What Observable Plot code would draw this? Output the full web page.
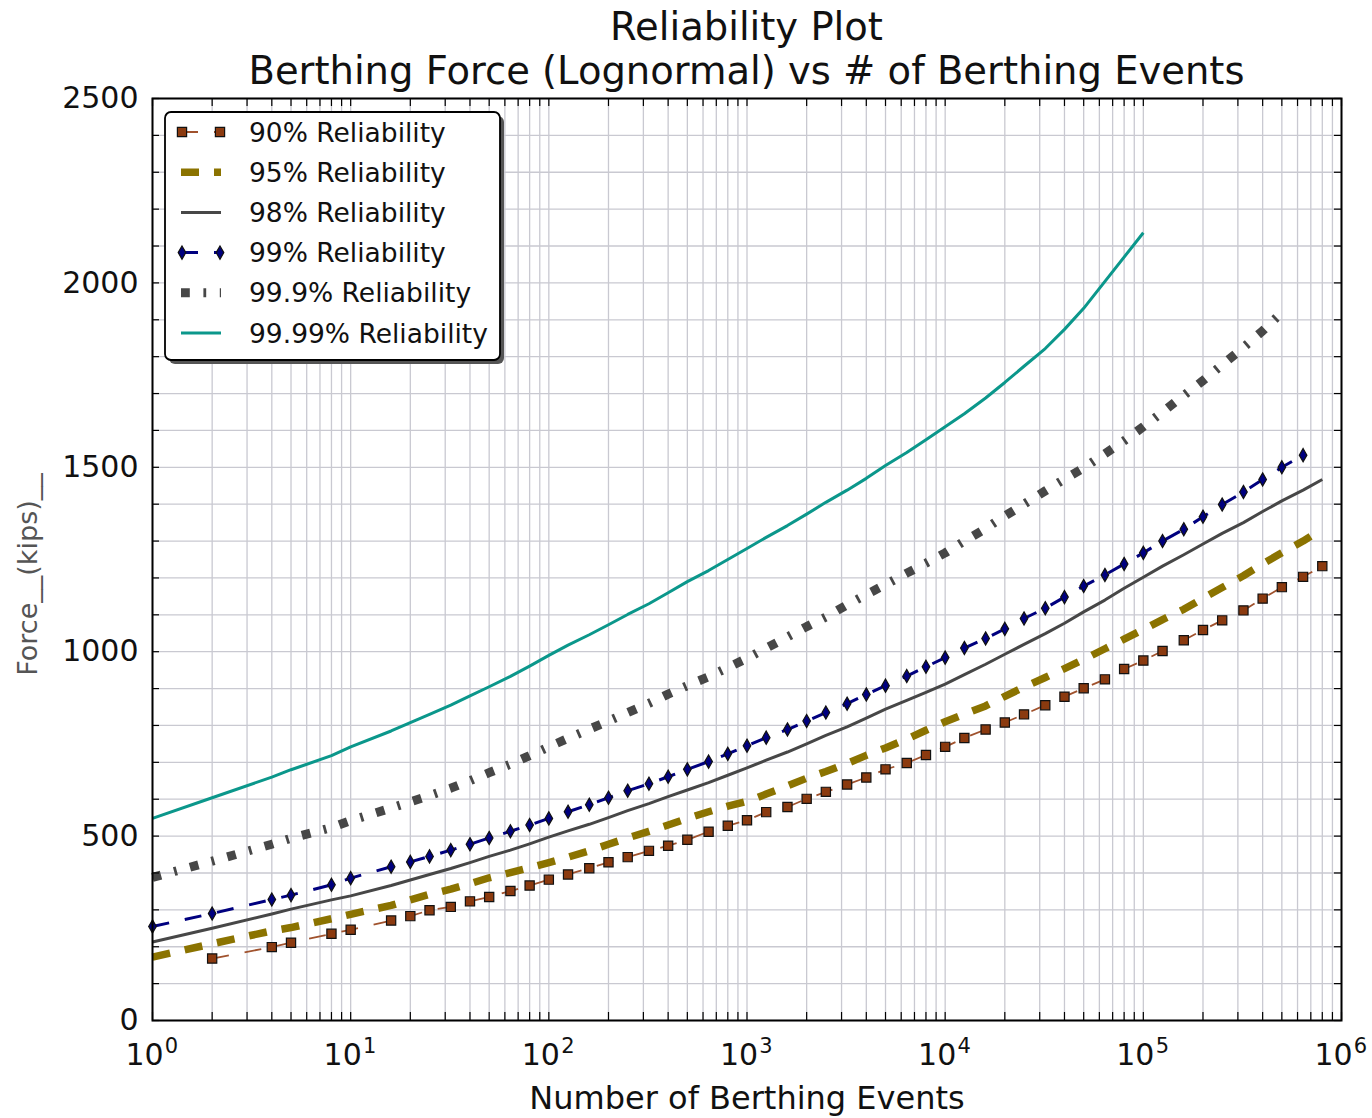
<!DOCTYPE html>
<html>
<head>
<meta charset="utf-8">
<script src="https://cdn.jsdelivr.net/npm/d3@7"></script>
<script src="https://cdn.jsdelivr.net/npm/@observablehq/plot@0.6"></script>
<style>
  body { margin: 0; background: #fff; font-family: "DejaVu Sans", sans-serif; }
  #wrap { position: relative; width: 1372px; height: 1118px; overflow: hidden; }
  #title { position: absolute; left: 152px; width: 1189px; top: 5px; text-align: center;
           font-size: 38.5px; line-height: 44px; color: #111; }
  #chart { position: absolute; left: 0; top: 0; }
  #legend { position: absolute; left: 0; top: 0; pointer-events: none; }
</style>
</head>
<body>
<div id="wrap">
  <div id="chart"></div>
  <div id="title">Reliability Plot<br>Berthing Force (Lognormal) vs # of Berthing Events</div>
  <svg id="legend" width="1372" height="1118"></svg>
</div>
<script>
// ---------------- data ----------------
const events = [1,2,4,5,8,10,16,20,25,32,40,50,64,80,100,125,160,200,250,320,400,500,640,800,
  1000,1250,1600,2000,2500,3200,4000,5000,6400,8000,10000,12500,16000,20000,25000,32000,40000,
  50000,64000,80000,100000,125000,160000,200000,250000,320000,400000,500000,640000,800000];

const rel90 = [null,168,199,211,235,246,271,283,299,308,323,335,351,366,382,396,413,429,443,460,474,490,512,528,
  543,565,579,601,620,640,659,681,698,720,742,766,789,808,830,855,878,
  901,925,953,976,1002,1031,1059,1085,1112,1144,1175,1203,1232];

const rel95 = [172,208,243,252,276,288,312,327,342,356,371,387,401,414,428,443,460,478,495,513,530,548,566,581,
  594,614,636,657,675,697,719,739,763,787,810,831,853,879,904,930,954,
  979,1008,1034,1060,1087,1115,1145,1174,1206,1238,1268,1300,1333];

const rel98 = [213,250,289,302,327,338,366,381,396,412,428,445,462,479,497,514,532,550,569,588,607,625,645,665,
  685,706,728,750,773,796,820,844,868,890,912,938,966,993,1020,1049,1077,
  1108,1140,1172,1202,1232,1263,1292,1321,1350,1380,1409,1438,1467];

const rel99 = [255,290,328,340,368,386,417,430,445,462,478,495,513,530,548,566,585,604,623,642,661,681,702,723,
  745,767,789,812,835,859,884,908,934,959,984,1010,1036,1062,1090,1118,1148,
  1178,1208,1238,1268,1300,1332,1366,1399,1433,1467,1500,1533,null];

const rel999 = [388,432,478,494,523,542,576,593,610,630,650,672,695,718,742,765,790,812,835,860,885,908,932,957,
  982,1010,1040,1068,1094,1127,1155,1182,1213,1240,1268,1300,1334,1368,1400,1436,1468,
  1498,1537,1572,1610,1650,1695,1735,1778,1825,1870,1920,null,null];

const rel9999 = [548,604,660,680,718,742,785,808,830,855,880,905,933,961,990,1018,1046,1073,1101,1130,1160,1190,1220,1250,
  1280,1310,1342,1373,1405,1438,1470,1505,1540,1575,1610,1645,1688,1730,1774,1822,1874,
  1931,null,null,2136,null,null,null,null,null,null,null,null,null];

const seriesNames = ["90% Reliability","95% Reliability","98% Reliability","99% Reliability","99.9% Reliability","99.99% Reliability"];
const seriesValues = [rel90, rel95, rel98, rel99, rel999, rel9999];

const xLabelTicks = [1,10,100,1000,10000,100000,1000000];
const xLabelExp = ["0","1","2","3","4","5","6"];
const yLabelTicks = [0,500,1000,1500,2000,2500];
const yGridTicks = d3.range(0, 2501, 100);
const mantissas = [1,2,3,4,5,6,7,8,9];
const xGridTicks = xLabelTicks.slice(0, -1).flatMap(d => mantissas.map(m => m * d)).concat([1000000]);

// ---------------- styles ----------------
const styles = [
  {stroke: "#a0522d", width: 1.8, dash: "17,16", marker: "square", mfill: "#8b3a0f", r: 5.2},
  {stroke: "#8b7300", width: 7.5, dash: "18,15"},
  {stroke: "#474747", width: 3, dash: null},
  {stroke: "#00007f", width: 3, dash: "17,16", marker: "diamond", mfill: "#00007f", r: 4},
  {stroke: "#474747", width: 9, dash: "8.8,13.6,2.8,13.6"},
  {stroke: "#0b978b", width: 3, dash: null}
];

const rows = [];
seriesNames.forEach((name, si) => {
  seriesValues[si].forEach((v, i) => {
    if (v != null) rows.push({series: name, idx: si, events: events[i], force: v});
  });
});

// ---------------- chart ----------------
const W = 1372, H = 1118, ML = 152, MR = 31, MT = 98, MB = 98;
const IW = W - ML - MR, IH = H - MT - MB;
const gridColor = "#c9c9d1";

const marks = [
  Plot.gridX(xGridTicks, {stroke: gridColor, strokeOpacity: 1, strokeWidth: 1.3}),
  Plot.gridY(yGridTicks, {stroke: gridColor, strokeOpacity: 1, strokeWidth: 1.3})
];

styles.forEach((s, si) => {
  const data = rows.filter(d => d.idx === si);
  marks.push(Plot.line(data, {
    x: "events", y: "force", stroke: s.stroke, strokeWidth: s.width,
    strokeDasharray: s.dash || undefined, strokeLinecap: "butt", strokeLinejoin: "round"
  }));
  if (s.marker) {
    marks.push(Plot.dot(data, {
      x: "events", y: "force", symbol: s.marker, r: s.r, fill: s.mfill,
      stroke: "#111", strokeWidth: 1.2
    }));
  }
});

// inward ticks on all four sides
marks.push(
  Plot.tickY(yGridTicks, {y: d => d, stroke: "#000", strokeWidth: 1.2, insetRight: IW - 7}),
  Plot.tickY(yGridTicks, {y: d => d, stroke: "#000", strokeWidth: 1.2, insetLeft: IW - 7}),
  Plot.tickX(xGridTicks, {x: d => d, stroke: "#000", strokeWidth: 1.2, insetTop: IH - 8}),
  Plot.tickX(xGridTicks, {x: d => d, stroke: "#000", strokeWidth: 1.2, insetBottom: IH - 8}),
  Plot.frame({stroke: "#000", strokeWidth: 2}),
  Plot.axisY(yLabelTicks, {tickSize: 0, tickPadding: 14, fontSize: 30, fill: "#111", label: null,
    tickFormat: d => String(d)}),
  Plot.text(xLabelTicks, {x: d => d, frameAnchor: "bottom", text: () => "10", dy: 44, dx: -8,
    fontSize: 30, fill: "#111"}),
  Plot.text(xLabelTicks, {x: d => d, frameAnchor: "bottom", text: (d, i) => xLabelExp[i], dy: 32, dx: 19,
    fontSize: 21, fill: "#111"}),
  Plot.text(["Number of Berthing Events"], {frameAnchor: "bottom", dy: 88, fontSize: 32, fill: "#111"}),
  Plot.text(["Force__(kips)__"], {frameAnchor: "left", textAnchor: "middle", dx: -124, dy: 15,
    rotate: -90, fontSize: 27, fill: "#555"})
);

const chart = Plot.plot({
  width: W, height: H,
  marginLeft: ML, marginRight: MR, marginTop: MT, marginBottom: MB,
  style: {fontFamily: "DejaVu Sans", background: "white", overflow: "visible"},
  x: {type: "log", domain: [1, 1000000], axis: null},
  y: {domain: [0, 2500], axis: null},
  marks
});
document.getElementById("chart").appendChild(chart);

// ---------------- legend ----------------
const lg = d3.select("#legend");
const bx = 165, by = 112, bw = 335, bh = 248;
lg.append("rect").attr("x", bx + 4).attr("y", by + 4).attr("width", bw).attr("height", bh)
  .attr("rx", 6).attr("fill", "#555");
lg.append("rect").attr("x", bx).attr("y", by).attr("width", bw).attr("height", bh)
  .attr("rx", 6).attr("fill", "#fff").attr("stroke", "#000").attr("stroke-width", 1.8);
const rowY0 = 132, rowDY = 40.2, lx1 = 181, lx2 = 221;
const sym = {square: d3.symbolSquare, diamond: d3.symbolDiamond};
seriesNames.forEach((name, i) => {
  const s = styles[i];
  const y = rowY0 + i * rowDY;
  const ln = lg.append("line").attr("x1", lx1).attr("x2", lx2).attr("y1", y).attr("y2", y)
    .attr("stroke", s.stroke).attr("stroke-width", s.width).attr("stroke-linecap", "butt");
  if (s.dash) ln.attr("stroke-dasharray", s.dash);
  if (s.marker) {
    [lx1 + 1, lx2 - 1].forEach(mx => {
      lg.append("path").attr("d", d3.symbol(sym[s.marker], Math.PI * s.r * s.r)())
        .attr("transform", `translate(${mx},${y})`).attr("fill", s.mfill)
        .attr("stroke", "#111").attr("stroke-width", 1.2);
    });
  }
  lg.append("text").attr("x", 249).attr("y", y).attr("dominant-baseline", "central")
    .attr("font-family", "DejaVu Sans").attr("font-size", 26.5).attr("fill", "#111").text(name);
});
</script>
</body>
</html>
